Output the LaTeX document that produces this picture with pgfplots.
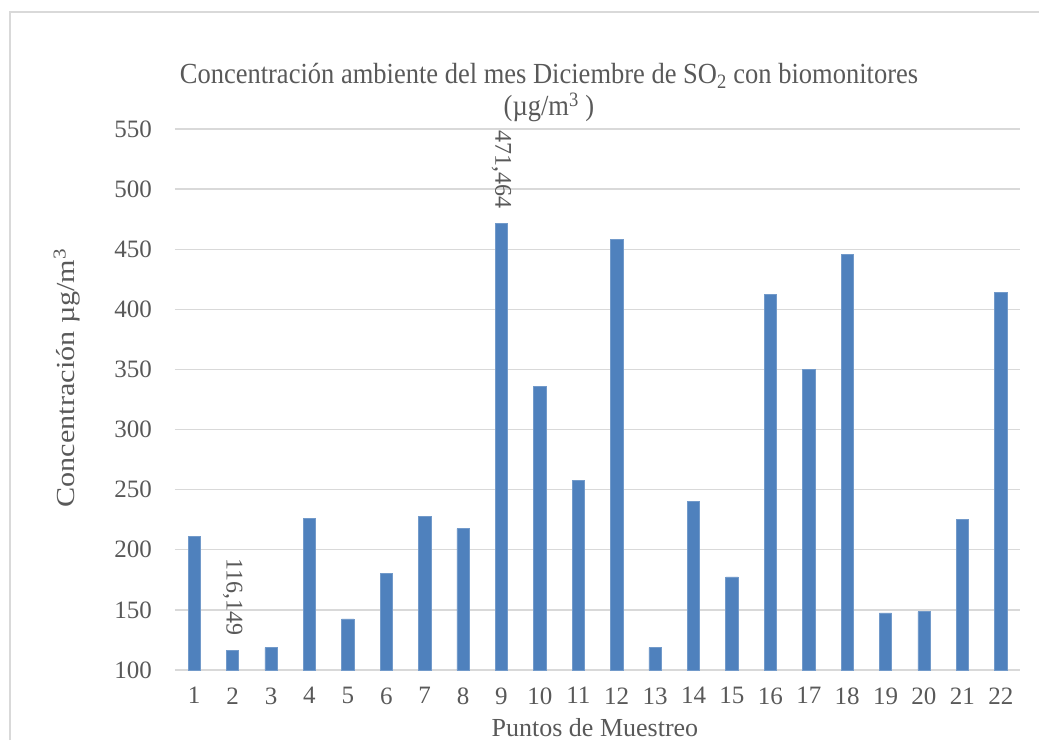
\documentclass[border=0pt]{standalone}
\usepackage{fontspec}
\setmainfont{Liberation Serif}
\usepackage{pgfplots}
\pgfplotsset{compat=1.18}
\definecolor{barblue}{HTML}{4F81BD}
\definecolor{txt}{HTML}{595959}
\definecolor{gridc}{HTML}{D9D9D9}
\begin{document}
\begin{tikzpicture}[x=1pt,y=1pt]
\draw[gridc, line width=1.3pt] (10,0) -- (10,728) -- (1039,728);
\begin{axis}[
  at={(175pt,70pt)}, anchor=south west,
  width=845pt, height=541pt, scale only axis,
  xmin=0.5, xmax=22.5, ymin=100, ymax=550,
  ytick={100,150,...,550}, xtick={1,...,22},
  ymajorgrids, major grid style={gridc, line width=1.3pt},
  axis line style={draw=none}, tick style={draw=none},
  /pgf/number format/assume math mode=true,
  ticklabel style={font=\fontsize{25}{30}\selectfont, text=txt, inner sep=0pt},
  yticklabel style={anchor=east, xshift=-23pt},
  xticklabel style={anchor=north, yshift=-13pt},
  every axis y label/.style={at={(axis description cs:-0.128,0.54)}, rotate=90, xscale=1.16, anchor=center},
  every axis x label/.style={at={(axis description cs:0.497,-0.122)}, anchor=base},
  label style={font=\fontsize{26}{30}\selectfont, text=txt},
  ylabel={Concentración µg/m\textsuperscript{3}},
  xlabel={Puntos de Muestreo},
  ybar, bar width=12.3pt,
  point meta=explicit symbolic,
  nodes near coords,
  every node near coord/.append style={font=\fontsize{24}{28}\selectfont, text=txt, inner sep=0pt, anchor=east, yshift=15pt, rotate=-90},
]
\addplot[fill=barblue, draw=barblue!80!white, line width=0.6pt] coordinates {
(1,211.1) []
(2,116.149) [116,149]
(3,118.6) []
(4,226.4) []
(5,142.5) []
(6,180.6) []
(7,227.5) []
(8,217.5) []
(9,471.464) [471,464]
(10,336.2) []
(11,258.0) []
(12,458.0) []
(13,118.6) []
(14,240.3) []
(15,177.5) []
(16,412.5) []
(17,349.8) []
(18,446.0) []
(19,147.5) []
(20,148.6) []
(21,225.6) []
(22,414.4) []
};
\end{axis}
\node[font=\fontsize{26.5}{30}\selectfont, text=txt, anchor=base, yscale=1.1] at (549,656)
  {Concentración ambiente del mes Diciembre de SO\textsubscript{2} con biomonitores};
\node[font=\fontsize{26.5}{30}\selectfont, text=txt, anchor=base, yscale=1.1] at (549,624)
  {(µg/m\textsuperscript{3} )};
\pgfresetboundingbox
\path[use as bounding box] (0,0) rectangle (1039,740);
\end{tikzpicture}
\end{document}
